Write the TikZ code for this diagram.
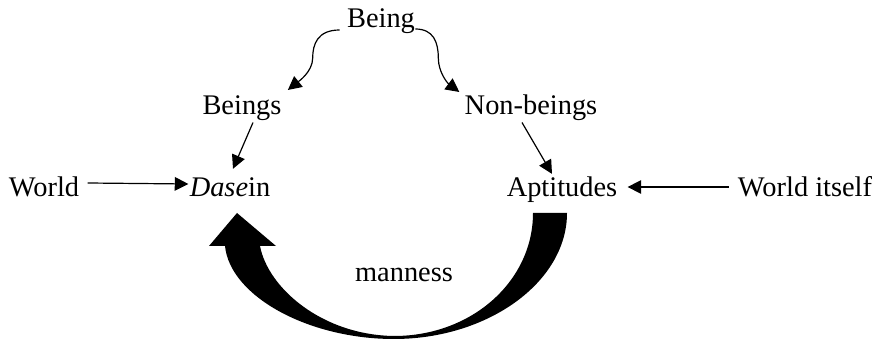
\documentclass[tikz,border=0pt]{standalone}
\usepackage{fontspec}
\setmainfont{Liberation Serif}
\usetikzlibrary{arrows.meta,calc}
\begin{document}
\begin{tikzpicture}[x=0.5pt,y=-0.5pt,
  lbl/.style={anchor=base,inner sep=0pt,font=\fontsize{14.2}{17}\selectfont},
  arr/.style={line width=0.6pt,-{Triangle[length=6.8pt,width=6.8pt]}}]
\useasboundingbox (0,0) rectangle (884,341);
\node[lbl] (being) at (381,28) {Being};
\node[lbl] (beings) at (242,115) {Beings};
\node[lbl] (nonbeings) at (531,115) {Non-beings};
\node[lbl] (world) at (44,197) {World};
\node[lbl] (dasein) at (230,197) {\textit{Dase}in};
\node[lbl] (aptitudes) at (562,197) {Aptitudes};
\node[lbl] (worlditself) at (805,197) {World itself};
\node[lbl] (manness) at (404,282) {manness};
% curved arrows from Being
\draw[arr] ($(being.base west)+(-7,2)$) .. controls +(-22,0) and +(0,-14) .. +(-27,28)
  .. controls +(0,14) and +(10,-8) .. ($(beings.base east)+(6,-25)$);
\draw[arr] ($(being.base east)+(0,1)$) .. controls +(18,0) and +(0,-16) .. +(23,29)
  .. controls +(0,14) and +(-12,-9) .. ($(nonbeings.base west)+(-5,-23)$);
% straight arrows
\draw[arr] ($(beings.south)+(11,1)$) -- ($(dasein.north)+(3,-9)$);
\draw[arr] ($(nonbeings.south)+(-9,1)$) -- ($(aptitudes.north)+(-10,-3)$);
\draw[arr] ($(world.base east)+(8,-14)$) -- ($(dasein.base west)+(-1,-13)$);
\draw[arr] ($(worlditself.base west)+(-9,-10)$) -- ($(aptitudes.base east)+(10,-10)$);
% big curved arrow
\fill (567,213) .. controls (567,282) and (488,339) .. (394,339)
  .. controls (308,339) and (230,296) .. (225,246)
  -- (209,246) -- (237,213) -- (276,246) -- (260,246)
  .. controls (268,288) and (322,335) .. (394,336)
  .. controls (472,336) and (533,281) .. (533,213) -- cycle;
\end{tikzpicture}
\end{document}
